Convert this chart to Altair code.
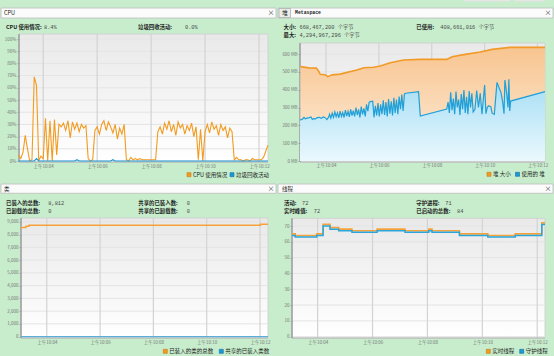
import altair as alt
import pandas as pd

# ----------------------------------------------------------------- data
# CPU panel: one sample every 5 s, times in seconds after 10:00:00
cpu_seconds = list(range(185, 745, 5))
cpu_usage = [5, 2, 7, 21, 10, 0, 1, 69, 62, 0,
             4, 2, 35, 0, 33, 0, 34, 5, 30, 28,
             31, 25, 33, 19, 32, 26, 31, 24, 30, 27,
             29, 2, 0, 1, 25, 28, 22, 30, 33, 25,
             32, 28, 23, 30, 18, 27, 22, 30, 1, 0,
             3, 1, 2, 1, 2, 1, 1, 1, 1, 1,
             1, 1, 24, 28, 22, 31, 26, 33, 24, 30,
             21, 32, 27, 30, 22, 29, 25, 31, 20, 28,
             1, 26, 0, 24, 30, 23, 32, 26, 29, 21,
             30, 25, 28, 19, 27, 24, 1, 3, 1, 1,
             0, 1, 1, 0, 2, 1, 1, 1, 1, 3,
             8, 13]
gc_activity = [0, 0, 0, 0, 0, 0, 0, 0, 2, 0,
               0, 0, 0, 0, 0, 0, 0, 0, 0, 0,
               0, 0, 0, 0, 0, 0, 1, 0, 0, 0,
               0, 0, 0, 0, 0, 0, 0, 0, 0, 0,
               0, 0, 1, 0, 0, 0, 0, 0, 0, 0,
               0, 0, 0, 0, 0, 0, 0, 0, 0, 0,
               0, 0, 0, 0, 0, 0, 0, 0, 0, 0,
               0, 0, 0, 0, 0, 0, 0, 0, 0, 0,
               0, 0, 0, 0, 0, 0, 0, 0, 0, 0,
               0, 0, 0, 0, 0, 0, 0, 0, 0, 0,
               0, 0, 0, 0, 0, 0, 0, 0, 0, 0,
               0, 0]

# Heap panel (MB), times in seconds after 10:00:00
heap_size_t = [182, 201, 218, 223, 227, 238, 244, 254, 272, 310, 326, 348,
               363, 386, 416, 454, 514, 526, 556, 590, 617, 658, 737]
heap_size_mb = [529, 522, 521, 505, 486, 484, 473, 483, 487, 510, 523, 526,
                533, 551, 566, 570, 570, 585, 598, 611, 626, 637, 637]
heap_used_t = [181, 186, 190, 193, 197, 202, 206, 209, 212, 216, 220, 225, 229, 234, 238, 242, 246,
               248, 251, 254, 257, 260, 263, 266, 269, 272, 275, 278, 281, 284, 287, 290, 293,
               296, 299, 302, 305, 308, 311, 314, 317, 320, 323, 326, 329, 332, 335, 338, 341, 346,
               349, 352, 355, 358, 361, 364, 367, 370, 373, 376, 379, 382, 385, 388, 391, 394,
               397, 400, 403, 406, 409, 412, 415, 418, 421, 450,
               454, 514,
               517, 520, 523, 526, 529, 532, 535, 538, 541, 544, 547, 550, 553, 556, 559, 562,
               565, 568, 571, 574, 578, 582, 586, 590, 594, 600, 603, 606, 609, 614, 617, 622,
               628, 637, 641, 644, 646, 650, 653, 655, 657, 659, 737]
heap_used_mb = [230, 233, 245, 237, 240, 243, 247, 233, 238, 236, 243, 245, 240, 247, 243, 232, 246,
                262, 240, 268, 245, 275, 248, 270, 242, 280, 250, 272, 244, 285, 252, 278, 247,
                290, 255, 282, 250, 300, 258, 290, 245, 305, 262, 295, 250, 318, 280, 330, 333, 335,
                245, 310, 255, 325, 250, 318, 262, 340, 258, 330, 250, 348, 265, 335, 255, 355,
                270, 345, 262, 362, 290, 372, 280, 376, 380, 389,
                252, 291,
                330, 270, 385, 285, 350, 262, 390, 300, 345, 258, 375, 290, 398, 270, 360, 262,
                392, 300, 380, 275, 290, 395, 300, 380, 262, 426, 265, 300, 310, 305, 268, 262,
                441, 385, 330, 265, 454, 380, 300, 458, 280, 336, 389]

# Classes panel
class_t = [182, 193, 200, 721, 738]
classes_loaded = [8560, 8650, 8720, 8812, 8812]
classes_shared = [0, 0, 0, 0, 0]

# Threads panel
thread_t = [184, 191, 238, 252, 267, 286, 315, 370, 431, 483, 490, 550, 612, 672, 730, 737]
threads_live = [65, 64, 65, 71, 69, 68, 67, 68, 67, 68, 67, 65, 64, 65, 72, 72]
threads_daemon = [64, 63, 64, 70, 68, 67, 66, 67, 66, 67, 66, 64, 63, 64, 71, 71]

time_ticks = [240, 360, 480, 600, 720]
cpu_ticks = [0, 10, 20, 30, 40, 50, 60, 70, 80, 90, 100]
heap_ticks = [0, 100, 200, 300, 400, 500, 600]
class_ticks = [0, 1000, 2000, 3000, 4000, 5000, 6000, 7000, 8000, 9000]
thread_ticks = [0, 10, 20, 30, 40, 50, 60, 70]

# ----------------------------------------------------------------- style
W = 277
H_TOP, H_BOT = 182, 174
GREEN = "#c7edcc"
ORANGE = "#f39b1f"
ORANGE_DARK = "#c7780e"
BLUE = "#1d9ad6"
BLUE_DARK = "#0f6fa8"
INK = "#1b1b1b"
GREY = "#4a4a4a"
AXIS_GREY = "#777777"
CJK = "Noto Sans CJK SC"
MONO = "Liberation Mono, Noto Sans CJK SC"
TIME_LABEL = "'上午10:' + (datum.value < 600 ? '0' : '') + (datum.value / 60)"
INFO = 5.4

one = pd.DataFrame({"k": [0]})


def grad(c1, c2):
    return alt.LinearGradient(
        gradient="linear", x1=0, x2=0, y1=0, y2=1,
        stops=[alt.GradientStop(color=c1, offset=0), alt.GradientStop(color=c2, offset=1)])


def box(x1, x2, y1, y2, fill, stroke=None, sw=0.8):
    kw = {"fill": fill}
    if stroke is not None:
        kw["stroke"] = stroke
        kw["strokeWidth"] = sw
    return alt.Chart(one).mark_rect(**kw).encode(
        x=alt.value(x1), x2=alt.value(x2), y=alt.value(y1), y2=alt.value(y2))


def txt(x, y, s, size=6, bold=False, color=INK, font=CJK, align="left"):
    return alt.Chart(one).mark_text(
        align=align, baseline="middle", fontSize=size,
        fontWeight="bold" if bold else "normal", color=color, font=font
    ).encode(x=alt.value(x), y=alt.value(y), text=alt.value(s))


def legend_item(x, y, color, dark, s, size=5.5):
    return [box(x, x + 4, y - 2, y + 2, color, dark, 0.6), txt(x + 6, y, s, size)]


def axes(xL, yB, H, yticks, pad, **ykw):
    xaxis = alt.Axis(values=time_ticks, labelExpr=TIME_LABEL, title=None, grid=False,
                     domain=False, ticks=False, tickSize=0, labelFont=CJK, labelFontSize=4.5,
                     labelColor=AXIS_GREY, labelPadding=pad, labelBaseline="middle",
                     labelFlush=False, labelOverlap=False, labelBound=False,
                     offset=yB - H, orient="bottom", zindex=2)
    yaxis = alt.Axis(values=yticks, title=None, grid=False, domain=False, ticks=True,
                     tickSize=2, tickColor="#9a9a9a", tickWidth=0.8, labelFont=CJK,
                     labelFontSize=4.5, labelColor=AXIS_GREY, labelPadding=1,
                     labelFlush=False, labelOverlap=False, labelBound=False,
                     offset=-xL, orient="left", zindex=2, **ykw)
    return xaxis, yaxis


def frame(xs, ys, xa, ya, xL, xR, yT, yB, yticks):
    bg = box(xL, xR, yT, yB, grad("#e9e9e9", "#ffffff"), "#cdcdcd", 0.8)
    hgrid = alt.Chart(pd.DataFrame({"v": yticks})).mark_rule(
        color="#e4e4e4", strokeWidth=1).encode(
        y=alt.Y("v:Q", scale=ys, axis=ya), x=alt.value(xL), x2=alt.value(xR))
    vgrid = alt.Chart(pd.DataFrame({"t": time_ticks})).mark_rule(
        color="#d3d3d3", strokeWidth=1.2).encode(
        x=alt.X("t:Q", scale=xs, axis=xa), y=alt.value(yT), y2=alt.value(yB))
    left = alt.Chart(one).mark_rule(color="#a3a3a3", strokeWidth=1.6).encode(
        x=alt.value(xL), y=alt.value(yT), y2=alt.value(yB))
    bottom = alt.Chart(one).mark_rule(color="#b3b3b3", strokeWidth=1.2).encode(
        x=alt.value(xL), x2=alt.value(xR), y=alt.value(yB))
    return [bg, hgrid, vgrid, left, bottom]


def series(df, mark, xs, ys, xa, ya, ycol, **enc):
    return mark.encode(x=alt.X("t:Q", scale=xs, axis=xa),
                       y=alt.Y(f"{ycol}:Q", scale=ys, axis=ya), **enc)


def header_bar(y1, y2):
    return [box(1, 276, y1, y2, "#fbfbfb", "#bdbdbd", 0.8),
            txt(271, (y1 + y2) / 2, "×", 7, color="#444", align="center")]


# ----------------------------------------------------------------- CPU
xs_cpu = alt.Scale(domain=[185, 740], range=[18.5, 268], nice=False, zero=False)
ys_cpu = alt.Scale(domain=[0, 100], range=[161, 39], nice=False, zero=False)
xa, ya = axes(19, 162, H_TOP, cpu_ticks, 4, labelExpr="datum.value + '%'")
cpu_df = pd.DataFrame({"t": cpu_seconds, "cpu": cpu_usage, "gc": gc_activity})
tl_layers = [box(0, W, 0, H_TOP, GREEN)]
tl_layers += frame(xs_cpu, ys_cpu, xa, ya, 19, 268, 34, 162, cpu_ticks)
tl_layers += [
    series(cpu_df, alt.Chart(cpu_df).mark_line(color=ORANGE, strokeWidth=1.1),
           xs_cpu, ys_cpu, xa, ya, "cpu"),
    series(cpu_df, alt.Chart(cpu_df).mark_line(color=BLUE, strokeWidth=1.2),
           xs_cpu, ys_cpu, xa, ya, "gc"),
]
tl_layers += header_bar(8, 18)
tl_layers += [
    txt(4, 13.2, "CPU", 5.5, color="#222"),
    txt(6, 26.7, "CPU 使用情况:", INFO, bold=True),
    txt(44, 26.7, "8.4%", 5.3, color=GREY, font=MONO),
    txt(138, 26.7, "垃圾回收活动:", INFO, bold=True),
    txt(185, 26.7, "0.0%", 5.3, color=GREY, font=MONO),
]
tl_layers += legend_item(187, 174.7, ORANGE, ORANGE_DARK, "CPU 使用情况")
tl_layers += legend_item(230, 174.7, BLUE, BLUE_DARK, "垃圾回收活动")
tl = alt.layer(*tl_layers).properties(width=W, height=H_TOP)

# ----------------------------------------------------------------- Heap
xs_heap = alt.Scale(domain=[181, 737], range=[23, 268], nice=False, zero=False)
ys_heap = alt.Scale(domain=[0, 600], range=[161, 54], nice=False, zero=False)
xa, ya = axes(23, 162, H_TOP, heap_ticks, 3.7, labelExpr="datum.value + ' MB'")
size_df = pd.DataFrame({"t": heap_size_t, "mb": heap_size_mb, "zero": 0})
used_df = pd.DataFrame({"t": heap_used_t, "mb": heap_used_mb, "zero": 0})
tr_layers = [box(0, W, 0, H_TOP, GREEN)]
tr_layers += frame(xs_heap, ys_heap, xa, ya, 23, 268, 43, 162, heap_ticks)
tr_layers += [
    series(size_df, alt.Chart(size_df).mark_area(fill=grad("#f8c590", "#fdeedd")),
           xs_heap, ys_heap, xa, ya, "mb", y2="zero:Q"),
    series(used_df, alt.Chart(used_df).mark_area(fill=grad("#a4ddf5", "#eaf8fd")),
           xs_heap, ys_heap, xa, ya, "mb", y2="zero:Q"),
    series(size_df, alt.Chart(size_df).mark_line(color="#f29a28", strokeWidth=1.6),
           xs_heap, ys_heap, xa, ya, "mb"),
    series(used_df, alt.Chart(used_df).mark_line(color="#1fa0d8", strokeWidth=1.2),
           xs_heap, ys_heap, xa, ya, "mb"),
]
tr_layers += [box(187.7, 233.3, 0, 1.5, "#e6e6e6"), box(237.7, 267.7, 0, 1.5, "#e6e6e6")]
tr_layers += header_bar(8, 18)
tr_layers += [
    box(2, 13.5, 8.5, 17.5, "#e8eee8", "#9a9a9a", 0.6),
    txt(5, 13, "堆", 5.8),
    txt(18, 13, "Metaspace", 4.8, bold=True, font=MONO),
    txt(6.5, 26.7, "大小:", INFO, bold=True),
    txt(22.5, 26.7, "668,467,200 个字节", 5.3, color=GREY, font=MONO),
    txt(6.5, 35, "最大:", INFO, bold=True),
    txt(22.5, 35, "4,294,967,296 个字节", 5.3, color=GREY, font=MONO),
    txt(139.3, 26.7, "已使用:", INFO, bold=True),
    txt(163.3, 26.7, "408,661,016 个字节", 5.3, color=GREY, font=MONO),
]
tr_layers += legend_item(210, 174.3, ORANGE, ORANGE_DARK, "堆 大小")
tr_layers += legend_item(238.5, 174.3, BLUE, BLUE_DARK, "使用的 堆")
tr = alt.layer(*tr_layers).properties(width=W, height=H_TOP)

# ----------------------------------------------------------------- Classes
xs_cls = alt.Scale(domain=[182, 738], range=[21, 268], nice=False, zero=False)
ys_cls = alt.Scale(domain=[0, 9000], range=[154.6, 39.8], nice=False, zero=False)
xa, ya = axes(21, 156, H_BOT, class_ticks, 4.3, format=",d")
cls_df = pd.DataFrame({"t": class_t, "loaded": classes_loaded, "shared": classes_shared})
bl_layers = [box(0, W, 0, H_BOT, GREEN)]
bl_layers += frame(xs_cls, ys_cls, xa, ya, 21, 268, 36, 156, class_ticks)
bl_layers += [
    series(cls_df, alt.Chart(cls_df).mark_line(color="#f5a23a", strokeWidth=1.5,
                                               interpolate="step-after"),
           xs_cls, ys_cls, xa, ya, "loaded"),
    series(cls_df, alt.Chart(cls_df).mark_line(color="#5aaed8", strokeWidth=1.4,
                                               interpolate="step-after"),
           xs_cls, ys_cls, xa, ya, "shared"),
]
bl_layers += header_bar(2, 11.3)
bl_layers += [
    txt(4, 6.7, "类", 5.5),
    txt(6, 21.3, "已装入的总数:", INFO, bold=True),
    txt(48.3, 21.3, "8,812", 5.3, color=GREY, font=MONO),
    txt(6, 28.7, "已卸载的总数:", INFO, bold=True),
    txt(48.3, 28.7, "0", 5.3, color=GREY, font=MONO),
    txt(138.3, 21.3, "共享的已装入数:", INFO, bold=True),
    txt(186.7, 21.3, "0", 5.3, color=GREY, font=MONO),
    txt(138.3, 28.7, "共享的已卸载数:", INFO, bold=True),
    txt(186.7, 28.7, "0", 5.3, color=GREY, font=MONO),
]
bl_layers += legend_item(163.3, 169.3, ORANGE, ORANGE_DARK, "已装入的类的总数")
bl_layers += legend_item(219.3, 169.3, BLUE, BLUE_DARK, "共享的已装入类数")
bl = alt.layer(*bl_layers).properties(width=W, height=H_BOT)

# ----------------------------------------------------------------- Threads
xs_thr = alt.Scale(domain=[184, 737], range=[15, 268], nice=False, zero=False)
ys_thr = alt.Scale(domain=[0, 70], range=[154.7, 44], nice=False, zero=False)
xa, ya = axes(15, 156, H_BOT, thread_ticks, 4.3)
thr_df = pd.DataFrame({"t": thread_t, "live": threads_live, "daemon": threads_daemon})
br_layers = [box(0, W, 0, H_BOT, GREEN)]
br_layers += frame(xs_thr, ys_thr, xa, ya, 15, 268, 36.3, 156, thread_ticks)
br_layers += [
    series(thr_df, alt.Chart(thr_df).mark_line(color="#f5a23a", strokeWidth=1.6,
                                               interpolate="step-after"),
           xs_thr, ys_thr, xa, ya, "live"),
    series(thr_df, alt.Chart(thr_df).mark_line(color="#2aa6dc", strokeWidth=1.5,
                                               interpolate="step-after"),
           xs_thr, ys_thr, xa, ya, "daemon"),
]
br_layers += header_bar(2, 11.3)
br_layers += [
    txt(5, 6.7, "线程", 5.5),
    txt(7, 21.3, "活动:", INFO, bold=True),
    txt(25, 21.3, "72", 5.3, color=GREY, font=MONO),
    txt(7, 28.7, "实时峰值:", INFO, bold=True),
    txt(36.7, 28.7, "72", 5.3, color=GREY, font=MONO),
    txt(139.3, 21.3, "守护进程:", INFO, bold=True),
    txt(168.3, 21.3, "71", 5.3, color=GREY, font=MONO),
    txt(139.3, 28.7, "已启动的总数:", INFO, bold=True),
    txt(180, 28.7, "84", 5.3, color=GREY, font=MONO),
]
br_layers += legend_item(209.3, 169.3, ORANGE, ORANGE_DARK, "实时线程")
br_layers += legend_item(242.7, 169.3, BLUE, BLUE_DARK, "守护线程")
br = alt.layer(*br_layers).properties(width=W, height=H_BOT)

# ----------------------------------------------------------------- layout
chart = alt.concat(
    tl, tr, bl, br, columns=2, spacing=0, bounds="flush",
).properties(padding=0, background=GREEN).configure_view(stroke=None)

chart.save("out.html", embed_options={"renderer": "svg", "actions": False})
